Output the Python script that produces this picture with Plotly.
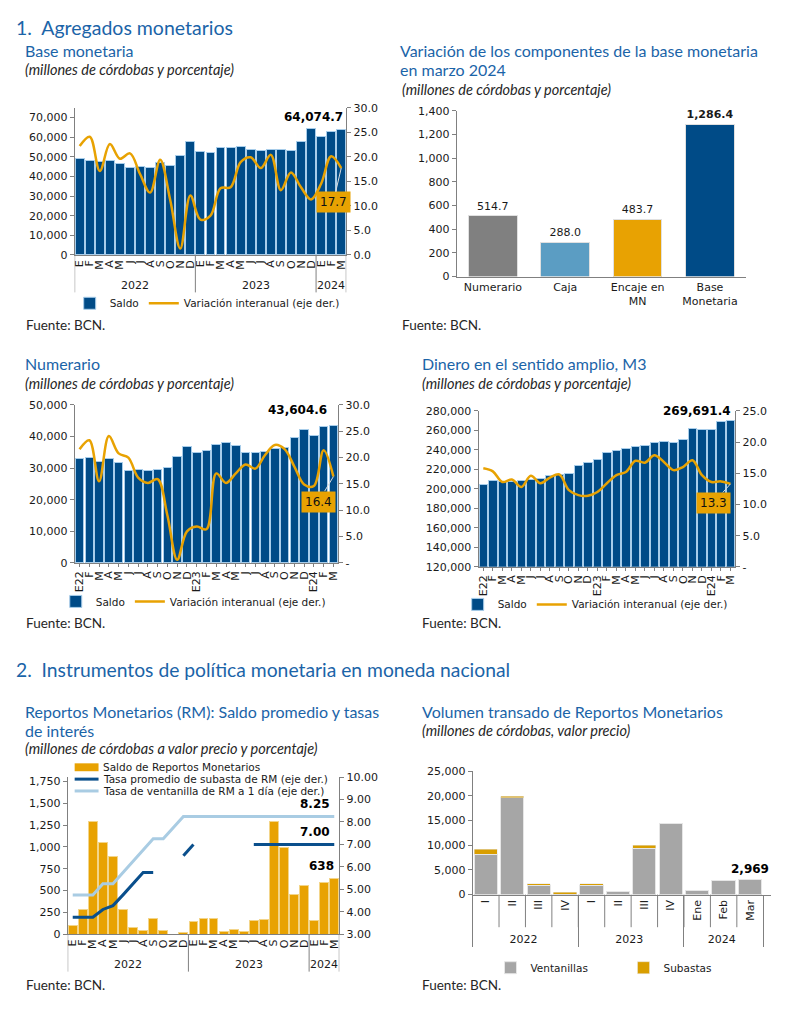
import plotly.graph_objects as go

# The page adds an 8px body margin; the figure is sized so that the whole page is 790x1036.
PAGE_W, PAGE_H, OFF = 790, 1036, 8
FW, FH = PAGE_W - 2 * OFF, PAGE_H - 2 * OFF

# ---------------- Data ----------------
# 1. Base monetaria
bm_years = ["2022"] * 12 + ["2023"] * 12 + ["2024"] * 3
bm_months = ["E", "F", "M", "A", "M", "J", "J", "A", "S", "O", "N", "D"] * 2 + ["E", "F", "M"]
bm_saldo = [49000, 48300, 47800, 48200, 46700, 44800, 45200, 44500, 47200, 45700, 50800, 57700,
            52500, 52300, 54700, 54800, 55500, 53700, 53000, 53700, 53600, 53300, 57800, 64300,
            60200, 62800, 64074.7]
bm_var = [22.2, 24.1, 17.1, 22.6, 19.6, 20.7, 16.5, 12.7, 19.4, 11.2, 1.3, 12.1,
          7.2, 8.0, 13.6, 13.8, 18.9, 19.9, 17.7, 20.4, 13.2, 16.8, 13.8, 11.3,
          14.5, 20.1, 17.7]

# 2. Variación de componentes
comp_cats = ["Numerario", "Caja", "Encaje en<br>MN", "Base<br>Monetaria"]
comp_vals = [514.7, 288.0, 483.7, 1286.4]
comp_colors = ["#808080", "#5b9dc3", "#e8a202", "#004b87"]

# 3. Numerario
m_labels = ["E22", "F", "M", "A", "M", "J", "J", "A", "S", "O", "N", "D",
            "E23", "F", "M", "A", "M", "J", "J", "A", "S", "O", "N", "D",
            "E24", "F", "M"]
nu_saldo = [32900, 33300, 32100, 33100, 31800, 29400, 29700, 29300, 29700, 30100, 33600, 36800,
            35100, 35500, 37500, 38100, 37200, 34900, 35000, 35300, 36250, 36600, 39600, 42300,
            40300, 43100, 43604.6]
nu_var = [21.6, 23.3, 15.5, 24.1, 20.8, 20.0, 16.2, 15.2, 15.9, 9.0, 0.6, 6.0,
          6.9, 6.4, 17.0, 15.2, 17.0, 18.7, 17.9, 20.5, 22.4, 21.6, 18.3, 14.9,
          14.6, 21.4, 16.4]

# 4. M3
m3_saldo = [204800, 208600, 207900, 207200, 208600, 209900, 210600, 214000, 214600, 215600, 223700, 227000,
            229800, 236800, 238900, 241200, 243200, 244900, 248000, 249000, 247300, 250300, 262100, 260400,
            261100, 269200, 269691.4]
m3_var = [15.8, 15.3, 13.6, 14.0, 12.8, 14.6, 13.4, 14.3, 14.8, 12.3, 11.5, 11.4,
          12.0, 13.4, 14.7, 15.2, 17.0, 16.7, 17.9, 16.8, 15.5, 16.0, 17.1, 14.7,
          13.6, 13.7, 13.3]

# 5. Reportos Monetarios
rm_saldo = [98, 285, 1288, 1048, 894, 278, 75, 38, 184, 41, 0, 15,
            139, 176, 176, 30, 49, 34, 154, 173, 1288, 991, 451, 552,
            158, 593, 638]
rm_sub = [3.75, 3.75, 3.75, 4.10, 4.27, 4.75, 5.25, 5.75, 5.75, None, None, 6.50,
          7.00, None, None, None, None, None, 7.00, 7.00, 7.00, 7.00, 7.00, 7.00,
          7.00, 7.00, 7.00]
rm_vent = [4.75, 4.75, 4.75, 5.25, 5.25, 5.75, 6.25, 6.75, 7.25, 7.25, 7.75, 8.25,
           8.25, 8.25, 8.25, 8.25, 8.25, 8.25, 8.25, 8.25, 8.25, 8.25, 8.25, 8.25,
           8.25, 8.25, 8.25]

# 6. Volumen transado
vol_years = ["2022"] * 4 + ["2023"] * 4 + ["2024"] * 3
vol_labels = ["I", "II", "III", "IV", "I", "II", "III", "IV", "Ene", "Feb", "Mar"]
vol_vent = [8200, 19600, 1850, 100, 1900, 600, 9350, 14400, 800, 2900, 2969]
vol_sub = [1000, 350, 400, 350, 350, 0, 650, 0, 0, 0, 0]

# ---------------- Styling helpers ----------------
BLUE = "#004b87"
EDGE = "#a8cdea"
GOLD = "#e8a202"
AX = "#808080"
TICKF = dict(family="DejaVu Sans", size=11, color="#1a1a1a")
TITLE_C = "#1b64a8"


def X(px):
    return (px - OFF) / FW


def Y(py):
    return 1 - (py - OFF) / FH


def xd(a, b):
    return [X(a), X(b)]


def yd(top, bottom):
    return [Y(bottom), Y(top)]


def yax(**kw):
    base = dict(showgrid=False, zeroline=False, showline=True, linecolor=AX, linewidth=1,
                ticks="outside", ticklen=4, tickcolor=AX, tickfont=TICKF)
    base.update(kw)
    return base


def catx(labels, ticks="", **kw):
    base = dict(range=[-0.5, len(labels) - 0.5], tickvals=list(range(len(labels))), ticktext=labels,
                tickangle=-90, showline=True, linecolor=AX, linewidth=1, ticks=ticks, ticklen=3,
                tickcolor=AX, showgrid=False, zeroline=False, tickfont=TICKF)
    base.update(kw)
    return base


idx = list(range(len(m_labels)))
fig = go.Figure()

# ---- Chart 1 ----
fig.add_trace(go.Bar(x=idx, y=bm_saldo, name="Saldo", marker=dict(color=BLUE, line=dict(color=EDGE, width=1)),
                     xaxis="x", yaxis="y", legend="legend"))
fig.add_trace(go.Scatter(x=idx, y=bm_var, name="Variación interanual (eje der.)", mode="lines",
                         line=dict(color=GOLD, width=2.5, shape="spline", smoothing=1),
                         xaxis="x", yaxis="y2", legend="legend"))

# ---- Chart 2 ----
comp_text = [f"{v:,.1f}" for v in comp_vals]
comp_text[-1] = "<b>" + comp_text[-1] + "</b>"
fig.add_trace(go.Bar(x=comp_cats, y=comp_vals, marker=dict(color=comp_colors, line=dict(color="#e0e0e0", width=1)),
                     width=0.67, text=comp_text, textposition="outside", cliponaxis=False,
                     textfont=dict(family="DejaVu Sans", size=11, color="#1a1a1a"),
                     showlegend=False, xaxis="x2", yaxis="y3"))

# ---- Chart 3 ----
fig.add_trace(go.Bar(x=idx, y=nu_saldo, name="Saldo", marker=dict(color=BLUE, line=dict(color=EDGE, width=1)),
                     xaxis="x3", yaxis="y4", legend="legend2"))
fig.add_trace(go.Scatter(x=idx, y=nu_var, name="Variación interanual (eje der.)", mode="lines",
                         line=dict(color=GOLD, width=2.5, shape="spline", smoothing=1),
                         xaxis="x3", yaxis="y5", legend="legend2"))

# ---- Chart 4 ----
fig.add_trace(go.Bar(x=idx, y=m3_saldo, name="Saldo", marker=dict(color=BLUE, line=dict(color=EDGE, width=1)),
                     xaxis="x4", yaxis="y6", legend="legend3"))
fig.add_trace(go.Scatter(x=idx, y=m3_var, name="Variación interanual (eje der.)", mode="lines",
                         line=dict(color=GOLD, width=2.5, shape="spline", smoothing=1),
                         xaxis="x4", yaxis="y7", legend="legend3"))

# ---- Chart 5 ----
fig.add_trace(go.Bar(x=idx, y=rm_saldo, name="Saldo de Reportos Monetarios",
                     marker=dict(color=GOLD, line=dict(color="#f3d58a", width=1)),
                     xaxis="x5", yaxis="y8", showlegend=False))
fig.add_trace(go.Scatter(x=idx, y=rm_vent, name="Tasa de ventanilla de RM a 1 día (eje der.)", mode="lines",
                         line=dict(color="#a9cce3", width=3), xaxis="x5", yaxis="y9", showlegend=False))
fig.add_trace(go.Scatter(x=idx, y=rm_sub, name="Tasa promedio de subasta de RM (eje der.)", mode="lines",
                         line=dict(color="#0a4f8c", width=3), xaxis="x5", yaxis="y9", showlegend=False))

# ---- Chart 6 ----
x6 = [vol_years, vol_labels]
fig.add_trace(go.Bar(x=x6, y=vol_vent, name="Ventanillas", marker=dict(color="#a6a6a6", line=dict(color="#e6e6e6", width=1)),
                     xaxis="x6", yaxis="y10", legend="legend4"))
fig.add_trace(go.Bar(x=x6, y=vol_sub, name="Subastas", marker=dict(color="#d99e00", line=dict(color="#e6e6e6", width=0.5)),
                     xaxis="x6", yaxis="y10", legend="legend4"))

LEGF = dict(family="DejaVu Sans", size=10.5, color="#1a1a1a")


def leg(x, y, **kw):
    d = dict(orientation="h", x=X(x), y=Y(y), xanchor="left", yanchor="middle",
             font=LEGF, bgcolor="rgba(0,0,0,0)", itemwidth=30, traceorder="normal")
    d.update(kw)
    return d


fig.update_layout(
    width=FW, height=FH, margin=dict(l=0, r=0, t=0, b=0),
    paper_bgcolor="white", plot_bgcolor="white",
    barmode="stack", bargap=0.12,
    # chart 1
    xaxis=catx(bm_months, domain=xd(73, 346), anchor="y"),
    yaxis=yax(domain=yd(103, 252), anchor="x", range=[0, 75000],
              tickvals=list(range(0, 70001, 10000)), tickformat=","),
    yaxis2=yax(overlaying="y", anchor="x", side="right", range=[0, 30], dtick=5, tickformat=".1f"),
    # chart 2
    xaxis2=dict(domain=xd(457, 748), anchor="y3", showline=True, linecolor=AX, ticks="",
                tickfont=TICKF, showgrid=False),
    yaxis3=yax(domain=yd(106, 274), anchor="x2", range=[0, 1400], dtick=200, tickformat=","),
    # chart 3
    xaxis3=catx(m_labels, ticks="outside", domain=xd(73, 338), anchor="y4"),
    yaxis4=yax(domain=yd(404, 564), anchor="x3", range=[0, 50000], dtick=10000, tickformat=","),
    yaxis5=yax(overlaying="y4", anchor="x3", side="right", range=[0, 30],
               tickvals=[0, 5, 10, 15, 20, 25, 30], ticktext=["-", "5.0", "10.0", "15.0", "20.0", "25.0", "30.0"]),
    # chart 4
    xaxis4=catx(m_labels, ticks="outside", domain=xd(479, 737), anchor="y6"),
    yaxis6=yax(domain=yd(410, 568), anchor="x4", range=[120000, 280000], dtick=20000, tickformat=","),
    yaxis7=yax(overlaying="y6", anchor="x4", side="right", range=[0, 25],
               tickvals=[0, 5, 10, 15, 20, 25], ticktext=["-", "5.0", "10.0", "15.0", "20.0", "25.0"]),
    # chart 5
    xaxis5=catx(bm_months, domain=xd(66, 339), anchor="y8"),
    yaxis8=yax(domain=yd(781, 940), anchor="x5", range=[0, 1800],
               tickvals=list(range(0, 1751, 250)), tickformat=","),
    yaxis9=yax(overlaying="y8", anchor="x5", side="right", range=[3, 10], dtick=1, tickformat=".2f"),
    # chart 6
    xaxis6=dict(type="multicategory", tickangle=-90, showdividers=True, dividercolor=AX,
                dividerwidth=1, ticks="", showline=True, linecolor=AX, linewidth=1,
                showgrid=False, zeroline=False, tickfont=TICKF, domain=xd(473, 773), anchor="y10"),
    yaxis10=yax(domain=yd(775, 900), anchor="x6", range=[0, 25000], dtick=5000, tickformat=","),
    legend=leg(68, 301),
    legend2=leg(54, 603),
    legend3=leg(458, 606),
    legend4=leg(491, 974, entrywidth=88, entrywidthmode="pixels"),
)

ann = []
shapes = []


def txt(x, y, s, size=13, color="#1a1a1a", family="Lato", anchor="left"):
    ann.append(dict(x=X(x), y=Y(y), xref="paper", yref="paper", text=s, showarrow=False,
                    xanchor=anchor, yanchor="middle", font=dict(family=family, size=size, color=color)))


def add_year_axis(years, xref, yref, plot_h, lab_px, div_px):
    groups = []
    for i, yv in enumerate(years):
        if not groups or groups[-1][0] != yv:
            groups.append([yv, i, i])
        else:
            groups[-1][2] = i
    bounds = [groups[0][1] - 0.5] + [g[2] + 0.5 for g in groups]
    for yv, a, b in groups:
        ann.append(dict(x=(a + b) / 2, y=-lab_px / plot_h, xref=xref, yref=yref + " domain", text=yv,
                        showarrow=False, xanchor="center", yanchor="middle", font=TICKF))
    for bx in bounds:
        shapes.append(dict(type="line", xref=xref, yref=yref + " domain", x0=bx, x1=bx, y0=0,
                           y1=-div_px / plot_h, line=dict(color=AX, width=1)))


add_year_axis(bm_years, "x", "y", 149, 31, 38)
add_year_axis(bm_years, "x5", "y8", 159, 31, 38)

SUBC = "#262626"
SUBS = 14.5
# section titles
txt(12, 22, "1.  Agregados monetarios", size=19.5, color=TITLE_C)
txt(12, 672, "2.  Instrumentos de política monetaria en moneda nacional", size=19.3, color=TITLE_C)
# chart titles
txt(21, 45, "Base monetaria", size=16, color=TITLE_C)
txt(21, 64, "<i>(millones de córdobas y porcentaje)</i>", size=SUBS, color=SUBC)
txt(398, 45, "Variación de los componentes de la base monetaria", size=16, color=TITLE_C)
txt(398, 64, "en marzo 2024", size=16, color=TITLE_C)
txt(400, 84, "<i>(millones de córdobas y porcentaje)</i>", size=SUBS, color=SUBC)
txt(21, 362, "Numerario", size=16, color=TITLE_C)
txt(21, 382, "<i>(millones de córdobas y porcentaje)</i>", size=SUBS, color=SUBC)
txt(420, 362, "Dinero en el sentido amplio, M3", size=16, color=TITLE_C)
txt(420, 382, "<i>(millones de córdobas y porcentaje)</i>", size=SUBS, color=SUBC)
txt(21, 715, "Reportos Monetarios (RM): Saldo promedio y tasas", size=16, color=TITLE_C)
txt(21, 734, "de interés", size=16, color=TITLE_C)
txt(21, 752, "<i>(millones de córdobas a valor precio y porcentaje)</i>", size=SUBS, color=SUBC)
txt(420, 715, "Volumen transado de Reportos Monetarios", size=16, color=TITLE_C)
txt(420, 734, "<i>(millones de córdobas, valor precio)</i>", size=SUBS, color=SUBC)
# sources
for (fx, fy) in [(22, 323), (400, 323), (22, 625), (420, 625), (22, 992), (420, 992)]:
    txt(fx, fy, "Fuente: BCN.", size=13.5, color=SUBC)

VALF = dict(family="DejaVu Sans", size=12, color="#000000")
BOXF = dict(family="DejaVu Sans", size=12, color="#111111")
n = len(bm_saldo)
# value labels
ann.append(dict(x=n - 1, y=bm_saldo[-1], xref="x", yref="y", text=f"<b>{bm_saldo[-1]:,.1f}</b>",
                showarrow=False, xanchor="right", yanchor="bottom", xshift=4, yshift=3, font=VALF))
ann.append(dict(x=n - 1, y=bm_var[-1], xref="x", yref="y2", text=f"{bm_var[-1]:.1f}",
                showarrow=True, ax=-8, ay=34, arrowhead=0, arrowwidth=1, arrowcolor="#dddddd",
                bgcolor=GOLD, borderpad=3, font=BOXF))
ann.append(dict(x=n - 1, y=nu_saldo[-1], xref="x3", yref="y4", text=f"<b>{nu_saldo[-1]:,.1f}</b>",
                showarrow=False, xanchor="right", yanchor="bottom", xshift=-4, yshift=6, font=VALF))
ann.append(dict(x=n - 1, y=nu_var[-1], xref="x3", yref="y5", text=f"{nu_var[-1]:.1f}",
                showarrow=True, ax=-15, ay=25, arrowhead=0, arrowwidth=1, arrowcolor="#dddddd",
                bgcolor=GOLD, borderpad=3, font=BOXF))
ann.append(dict(x=n - 1, y=m3_saldo[-1], xref="x4", yref="y6", text=f"<b>{m3_saldo[-1]:,.1f}</b>",
                showarrow=False, xanchor="right", yanchor="bottom", xshift=3, yshift=1, font=VALF))
ann.append(dict(x=n - 1, y=m3_var[-1], xref="x4", yref="y7", text=f"{m3_var[-1]:.1f}",
                showarrow=True, ax=-17, ay=19, arrowhead=0, arrowwidth=1, arrowcolor="#dddddd",
                bgcolor=GOLD, borderpad=3, font=BOXF))
ann.append(dict(x=n - 1, y=rm_vent[-1], xref="x5", yref="y9", text=f"<b>{rm_vent[-1]:.2f}</b>",
                showarrow=False, xanchor="right", yanchor="bottom", xshift=-2, yshift=3, font=VALF))
ann.append(dict(x=n - 1, y=rm_sub[-1], xref="x5", yref="y9", text=f"<b>{rm_sub[-1]:.2f}</b>",
                showarrow=False, xanchor="right", yanchor="bottom", xshift=-2, yshift=3, font=VALF))
ann.append(dict(x=n - 1, y=rm_saldo[-1], xref="x5", yref="y8", text=f"<b>{rm_saldo[-1]:,.0f}</b>",
                showarrow=False, xanchor="right", yanchor="bottom", xshift=2, yshift=3, font=VALF))
nv = len(vol_vent)
ann.append(dict(x=nv - 1, y=vol_vent[-1] + vol_sub[-1], xref="x6", yref="y10",
                text=f"<b>{vol_vent[-1] + vol_sub[-1]:,.0f}</b>",
                showarrow=False, xanchor="center", yanchor="bottom", yshift=2, font=VALF))

# compact legend for RM chart
rm_leg = [("Saldo de Reportos Monetarios", "bar", GOLD, 771),
          ("Tasa promedio de subasta de RM (eje der.)", "line", "#0a4f8c", 783),
          ("Tasa de ventanilla de RM a 1 día (eje der.)", "line", "#a9cce3", 795)]
for label, kind, col, ly in rm_leg:
    if kind == "bar":
        shapes.append(dict(type="rect", xref="paper", yref="paper", x0=X(73), x1=X(97),
                           y0=Y(ly + 4), y1=Y(ly - 4), fillcolor=col, line=dict(width=0)))
    else:
        shapes.append(dict(type="line", xref="paper", yref="paper", x0=X(73), x1=X(97),
                           y0=Y(ly), y1=Y(ly), line=dict(color=col, width=3)))
    txt(99, ly, label, size=10.5, family="DejaVu Sans")

# per-category separators in volume chart
for i in range(nv - 1):
    shapes.append(dict(type="line", xref="x6", yref="y10 domain", x0=i + 0.5, x1=i + 0.5,
                       y0=0, y1=-33 / 125, line=dict(color=AX, width=1)))

fig.update_layout(annotations=ann, shapes=shapes)
fig.write_html("out.html", config={"displayModeBar": False})
